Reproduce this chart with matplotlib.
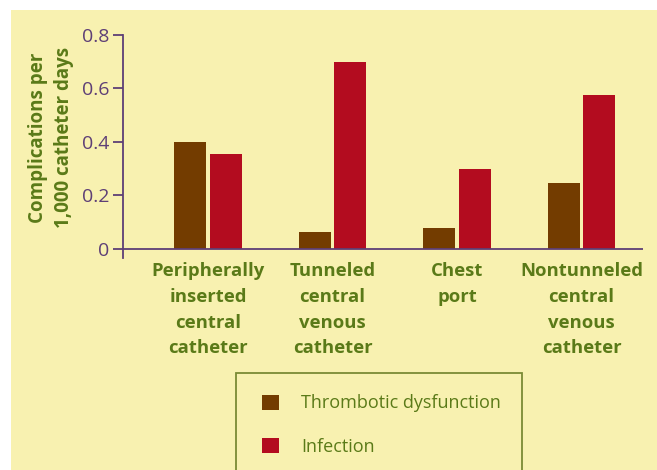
import matplotlib.pyplot as plt
import numpy as np
from matplotlib.patches import Rectangle

categories = ["Peripherally\ninserted\ncentral\ncatheter",
              "Tunneled\ncentral\nvenous\ncatheter",
              "Chest\nport",
              "Nontunneled\ncentral\nvenous\ncatheter"]
thrombotic = [0.40, 0.065, 0.08, 0.245]
infection = [0.355, 0.70, 0.30, 0.575]
yticks = [0, 0.2, 0.4, 0.6, 0.8]
ytick_labels = ["0", "0.2", "0.4", "0.6", "0.8"]

bg = "#F8F1B0"
brown = "#733C00"
red = "#B30C1F"
purple = "#5E3F76"
green = "#5A7A18"

plt.rcParams['font.family'] = ['Open Sans', 'DejaVu Sans']

fig = plt.figure(figsize=(6.57, 4.70), dpi=100)
fig.patch.set_facecolor("white")
# yellow panel with thin white margin at top/left
fig.patches.append(Rectangle((11 / 657, 0), 1, 1 - 10 / 470, transform=fig.transFigure,
                             facecolor=bg, edgecolor="none", zorder=-5))

ax = fig.add_axes([123 / 657, 1 - 258 / 470, 520 / 657, 223 / 470])
ax.set_facecolor("none")
ax.set_zorder(2)

x = np.arange(len(categories))
w = 0.257
ax.bar(x - 0.143, thrombotic, w, color=brown, label="Thrombotic dysfunction")
ax.bar(x + 0.143, infection, w, color=red, label="Infection")

ax.set_xlim(-0.683, 3.494)
ax.set_ylim(-0.034, 0.8)
ax.axhline(0, color=purple, lw=1.3, zorder=3)

for s in ["top", "right", "bottom"]:
    ax.spines[s].set_visible(False)
ax.spines["left"].set_color(purple)
ax.spines["left"].set_linewidth(1.3)

ax.set_yticks(yticks)
ax.set_yticklabels(ytick_labels, fontsize=14, color=purple)
ax.tick_params(axis="y", length=7, width=1.3, color=purple, pad=3)

ax.set_xticks(x)
ax.set_xticklabels(categories, fontsize=13.3, fontweight="bold", color=green,
                   linespacing=1.55)
ax.tick_params(axis="x", length=0, pad=3)

ax.set_ylabel("Complications per\n1,000 catheter days", fontsize=13.5, fontweight="bold",
              color=green, linespacing=1.4)
ax.yaxis.set_label_coords(-0.095, 0.54)

fig.patches.append(Rectangle((236 / 657, -0.05), 286 / 657, 0.05 + (470 - 373) / 470,
                             transform=fig.transFigure, facecolor="none",
                             edgecolor="#7A8A35", lw=1.3, zorder=1))
leg = fig.legend(loc="upper left", bbox_to_anchor=(246 / 657, 1 - 378 / 470),
                 frameon=False, fontsize=13, handlelength=0.9, handleheight=0.9,
                 handletextpad=1.25, labelspacing=1.4)
for t in leg.get_texts():
    t.set_color(green)

fig.savefig("out.png", dpi=100, facecolor=fig.get_facecolor())
